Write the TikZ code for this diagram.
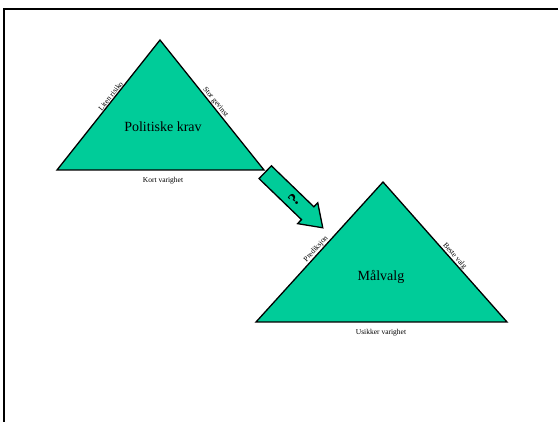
\documentclass[tikz,border=0pt]{standalone}
\usepackage{fontspec}
\setmainfont{Liberation Serif}
\usetikzlibrary{calc}
\definecolor{tcol}{RGB}{0,204,153}

\begin{document}
\begin{tikzpicture}[
  x=1pt,y=-1pt,
  tri/.style={fill=tcol,draw=black,line width=1.3pt,line join=miter},
  side/.style={font=\fontsize{7.5}{8}\selectfont,inner sep=1pt},
  base/.style={font=\fontsize{7.5}{8}\selectfont},
  title/.style={font=\fontsize{14}{16}\selectfont},
  blockarrow/.style={fill=tcol,draw=black,line width=1.3pt,line join=miter}]
\useasboundingbox (0,0) rectangle (558,422);
\draw[line width=1.6pt] (4,422) -- (4,9) -- (558,9);
% politiske krav
\coordinate (pk-l) at (57,170);
\coordinate (pk-t) at (160,40);
\coordinate (pk-r) at (264,170);
\draw[tri] (pk-l) -- (pk-t) -- (pk-r) -- cycle;
\node[title] (pk) at (163,127) {Politiske krav};
\node[base] (pk-b) at (163,181) {Kort varighet};
\path (pk-l) -- node[side,sloped,above,pos=0.55] (pk-1) {Liten risiko} (pk-t);
\path (pk-t) -- node[side,sloped,above,pos=0.5] (pk-2) {Stor gevinst} (pk-r);
% maalvalg
\coordinate (mv-l) at (256,322);
\coordinate (mv-t) at (383,182);
\coordinate (mv-r) at (507,322);
\draw[tri] (mv-l) -- (mv-t) -- (mv-r) -- cycle;
\node[title] (mv) at (381,277) {Målvalg};
\node[base] (mv-b) at (381,333) {Usikker varighet};
\path (mv-l) -- node[side,sloped,above,pos=0.5] (mv-1) {Prediksjon} (mv-t);
\path (mv-t) -- node[side,sloped,above,pos=0.55] (mv-2) {Beste valg} (mv-r);
% overgang
\coordinate (gap) at (294,200);
\begin{scope}[shift={(gap)},rotate=-44]
  \draw[blockarrow] (-40,-8.9) -- (19,-8.9) -- (19,-14.5) -- (40,0)
    -- (19,14.5) -- (19,8.9) -- (-40,8.9) -- cycle;
\end{scope}
\node[font=\bfseries\fontsize{17}{19}\selectfont,rotate=45] (q) at (gap) {?};
\end{tikzpicture}
\end{document}
